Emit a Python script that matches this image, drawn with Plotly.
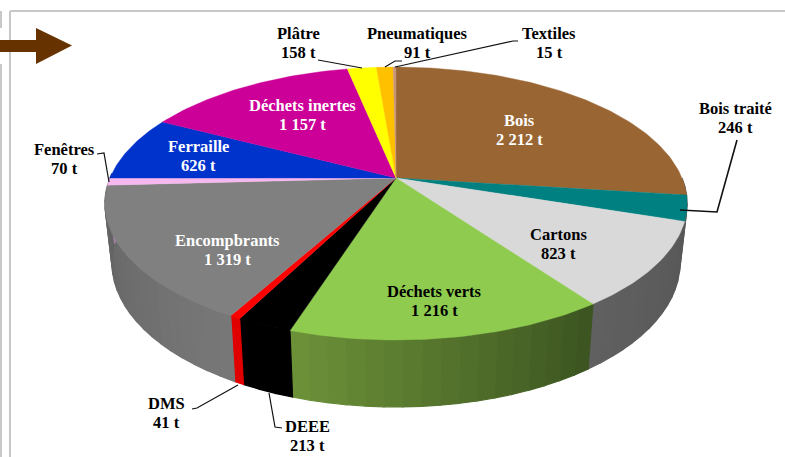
import math
import plotly.graph_objects as go

# ---- data ----
names = ["Bois", "Bois traité", "Cartons", "Déchets verts", "DEEE", "DMS", "Encompbrants",
         "Fenêtres", "Ferraille", "Déchets inertes", "Plâtre", "Pneumatiques", "Textiles"]
tonnes = [2212, 246, 823, 1216, 213, 41, 1319, 70, 626, 1157, 158, 91, 15]
colors = ["#996633", "#008080", "#d9d9d9", "#8ecb4e", "#000000", "#ff0000", "#808080",
          "#f6b8ee", "#0033cc", "#cc0099", "#ffff00", "#ffc000", "#c89478"]
# side wall shade: (colour at start angle, colour at end angle)
side_shades = [("#555555", "#555555"), ("#555555", "#585858"), ("#585858", "#606060"),
               ("#3a5320", "#6d9239"), ("#000000", "#000000"), ("#e00000", "#e00000"),
               ("#787878", "#626262"), ("#a080a0", "#a080a0"), ("#002299", "#002299"),
               ("#880066", "#880066"), ("#aaaa00", "#aaaa00"), ("#aa8000", "#aa8000"),
               ("#806050", "#806050")]
label_colors = ["#ffffff", "#000000", "#000000", "#000000", "#000000", "#000000", "#ffffff",
                "#000000", "#ffffff", "#ffffff", "#000000", "#000000", "#000000"]
label_xy = [(519, 130), (735, 118), (558, 244), (434, 301), (307, 436), (166, 413), (227, 250),
            (64, 159), (198, 156), (302, 115), (298, 43), (417, 43), (549, 43)]
leaders = {
    "Bois traité": [(680, 210), (717, 212), (737, 140)],
    "DEEE": [(269, 393), (275, 427), (282, 428)],
    "DMS": [(238, 385), (197, 408), (192, 409)],
    "Fenêtres": [(109, 182), (104, 153), (97, 154)],
    "Plâtre": [(362, 68), (318, 60)],
    "Pneumatiques": [(385, 67), (395, 61), (402, 61)],
    "Textiles": [(395, 67), (513, 41), (518, 41)],
}

# ---- perspective projection of the pie disc ----
CX, CY_TOP, CY_BOT = 396, 178, 236
A_TOP, B_TOP, A_BOT, B_BOT, K = 286, 131.7, 279, 139, 0.187


def proj(theta, top=True):
    u, v = math.sin(theta), math.cos(theta)
    d = 1 + K * v
    if top:
        return CX + A_TOP * u / d, CY_TOP - B_TOP * v / d
    return CX + A_BOT * u / d, CY_BOT - B_BOT * v / d


def hexmix(c1, c2, t):
    a = [int(c1[i:i + 2], 16) for i in (1, 3, 5)]
    b = [int(c2[i:i + 2], 16) for i in (1, 3, 5)]
    return "#%02x%02x%02x" % tuple(round(p + (q - p) * t) for p, q in zip(a, b))


total = sum(tonnes)
starts, a = [], 0.0
for t in tonnes:
    starts.append(a)
    a += t / total * 2 * math.pi
ends = starts[1:] + [2 * math.pi]

fig = go.Figure()


def poly(pts, color, lw=0.4):
    xs = [p[0] for p in pts] + [pts[0][0]]
    ys = [p[1] for p in pts] + [pts[0][1]]
    fig.add_trace(go.Scatter(x=xs, y=ys, mode="lines", fill="toself", fillcolor=color,
                             line=dict(color=color, width=lw), hoverinfo="skip", showlegend=False))


# side walls (only the front half is visible)
LO, HI = math.radians(90), math.radians(272)
STEP = math.radians(3)
for s, e, shade in zip(starts, ends, side_shades):
    s0, e0 = max(s, LO), min(e, HI)
    if e0 <= s0:
        continue
    n = max(1, int((e0 - s0) / STEP))
    for i in range(n):
        a1 = s0 + (e0 - s0) * i / n
        a2 = s0 + (e0 - s0) * (i + 1) / n
        col = hexmix(shade[0], shade[1], (i + 0.5) / n)
        poly([proj(a1), proj(a2), proj(a2, False), proj(a1, False)], col, lw=1.2)

# top surface
for s, e, c in zip(starts, ends, colors):
    n = max(2, int((e - s) / math.radians(1)))
    pts = [(CX, CY_TOP)] + [proj(s + (e - s) * i / n) for i in range(n + 1)]
    poly(pts, c)

# leader lines
for name, pts in leaders.items():
    fig.add_trace(go.Scatter(x=[p[0] for p in pts], y=[p[1] for p in pts], mode="lines",
                             line=dict(color="#111111", width=1.6 if name == "Bois traité" else 1.2),
                             hoverinfo="skip", showlegend=False))


def fmt(v):
    return f"{v:,}".replace(",", " ")


annotations = []
for n, v, lc, xy in zip(names, tonnes, label_colors, label_xy):
    for text, dy in ((n, -10), (f"{fmt(v)} t", 9.5)):
        annotations.append(dict(x=xy[0], y=xy[1] + dy, xref="x", yref="y", showarrow=False,
                                text=f"<b>{text}</b>", align="center",
                                font=dict(family="Liberation Serif", size=16.5, color=lc)))

shapes = [
    dict(type="line", x0=10, x1=10, y0=11, y1=457, line=dict(color="#c8c8c8", width=2)),
    dict(type="line", x0=10, x1=785, y0=11, y1=11, line=dict(color="#c8c8c8", width=2)),
    dict(type="line", x0=1, x1=1, y0=11, y1=28, line=dict(color="#c8c8c8", width=2)),
    dict(type="line", x0=1, x1=1, y0=64, y1=457, line=dict(color="#c8c8c8", width=2)),
    dict(type="path", path="M0,40 L36,40 L36,28 L72,45.5 L36,64 L36,52 L0,52 Z",
         fillcolor="#663300", line=dict(width=0)),
]

fig.update_layout(
    width=785, height=457, margin=dict(l=0, r=0, t=0, b=0),
    paper_bgcolor="white", plot_bgcolor="white", showlegend=False,
    xaxis=dict(range=[0, 785], visible=False, fixedrange=True),
    yaxis=dict(range=[457, 0], visible=False, fixedrange=True),
    annotations=annotations, shapes=shapes,
)
fig.write_html("out.html", config={"displayModeBar": False},
               post_script="document.body.style.margin='0';document.documentElement.style.overflow='hidden';")
